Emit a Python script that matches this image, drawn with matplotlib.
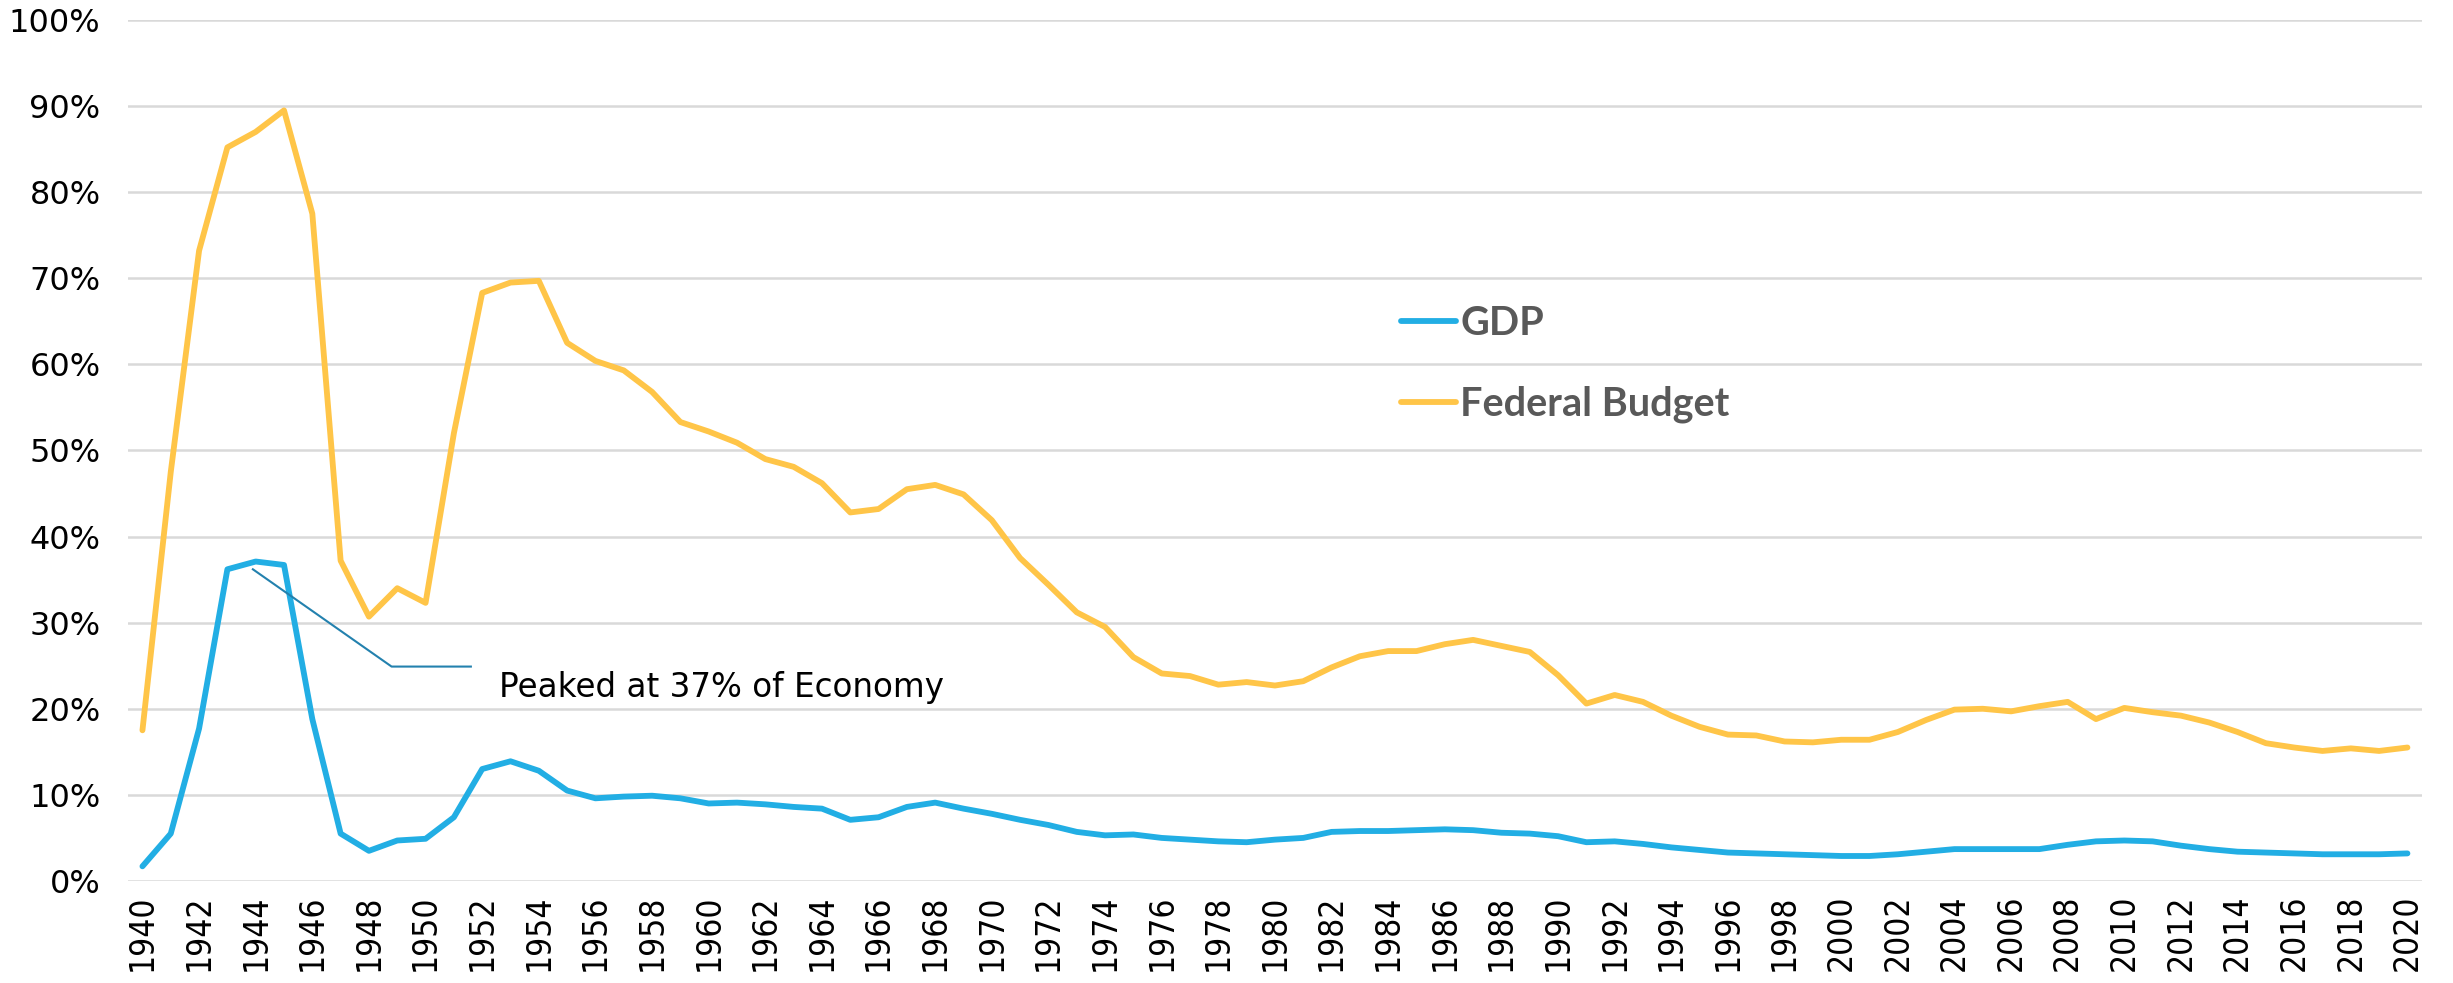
import numpy as np
import matplotlib
matplotlib.use("Agg")
import matplotlib.pyplot as plt
from matplotlib.ticker import FuncFormatter

# Dépenses de défense : part du PIB et part du budget fédéral (%)
years = list(range(1940, 2021))

gdp = [1.7, 5.5, 17.7, 36.2, 37.1, 36.7, 18.8, 5.5, 3.5, 4.7,
       4.9, 7.4, 13.0, 13.9, 12.8, 10.5, 9.6, 9.8, 9.9, 9.6,
       9.0, 9.1, 8.9, 8.6, 8.4, 7.1, 7.4, 8.6, 9.1, 8.4,
       7.8, 7.1, 6.5, 5.7, 5.3, 5.4, 5.0, 4.8, 4.6, 4.5,
       4.8, 5.0, 5.7, 5.8, 5.8, 5.9, 6.0, 5.9, 5.6, 5.5,
       5.2, 4.5, 4.6, 4.3, 3.9, 3.6, 3.3, 3.2, 3.1, 3.0,
       2.9, 2.9, 3.1, 3.4, 3.7, 3.7, 3.7, 3.7, 4.2, 4.6,
       4.7, 4.6, 4.1, 3.7, 3.4, 3.3, 3.2, 3.1, 3.1, 3.1,
       3.2]

budget = [17.5, 47.5, 73.2, 85.2, 87.0, 89.5, 77.5, 37.2, 30.7, 34.0,
          32.3, 52.0, 68.3, 69.5, 69.7, 62.5, 60.4, 59.3, 56.8, 53.3,
          52.2, 50.9, 49.0, 48.1, 46.2, 42.8, 43.2, 45.5, 46.0, 44.9,
          41.9, 37.5, 34.4, 31.2, 29.5, 26.0, 24.1, 23.8, 22.8, 23.1,
          22.7, 23.2, 24.8, 26.1, 26.7, 26.7, 27.5, 28.0, 27.3, 26.6,
          23.9, 20.6, 21.6, 20.8, 19.2, 17.9, 17.0, 16.9, 16.2, 16.1,
          16.4, 16.4, 17.3, 18.7, 19.9, 20.0, 19.7, 20.3, 20.8, 18.8,
          20.1, 19.6, 19.2, 18.4, 17.3, 16.0, 15.5, 15.1, 15.4, 15.1,
          15.5]

# Annotation (pic de 1944)
annot_x = [1943.9, 1948.8, 1951.6]
annot_y = [36.2, 24.9, 24.9]
annot_text = "Peaked at 37% of Economy"

fig = plt.figure(figsize=(24.53, 9.83), dpi=100)
ax = fig.add_axes([0.0523, 0.1038, 0.9349, 0.8759])

ax.plot(years, gdp, color="#22AEE4", lw=4.2, label="GDP", solid_capstyle="round")
ax.plot(years, budget, color="#FFC548", lw=4.2, label="Federal Budget", solid_capstyle="round")

ax.plot(annot_x, annot_y, color="#2381AE", lw=1.5)
ax.text(1952.6, 22.5, annot_text, fontsize=23.5, va="center", ha="left",
        family="DejaVu Sans", color="black")

ax.set_xlim(1939.5, 2020.5)
ax.set_ylim(0, 100)
ax.set_yticks(np.arange(0, 101, 10))
ax.yaxis.set_major_formatter(FuncFormatter(lambda v, p: f"{v:.0f}%"))
ax.set_xticks(years[::2])
ax.set_xticklabels([str(y) for y in years[::2]], rotation=90,
                   family="DejaVu Sans", stretch="condensed", fontsize=24)
for lab in ax.get_yticklabels():
    lab.set_fontsize(23)
    lab.set_family("DejaVu Sans")

ax.tick_params(axis="both", length=0)
ax.tick_params(axis="x", pad=10)
ax.tick_params(axis="y", pad=20)
ax.grid(axis="y", color="#D9D9D9", lw=1.8)
ax.set_axisbelow(True)
for s in ax.spines.values():
    s.set_visible(False)

leg = ax.legend(loc="center left", bbox_to_anchor=(0.555, 0.600), frameon=False,
                handlelength=1.4, handletextpad=0.1, labelspacing=1.1,
                borderpad=0, borderaxespad=0,
                prop={"family": ["Lato", "DejaVu Sans"], "weight": "bold", "size": 28.5})
for t in leg.get_texts():
    t.set_color("#595959")

fig.savefig("out.png", dpi=100, facecolor="white")
